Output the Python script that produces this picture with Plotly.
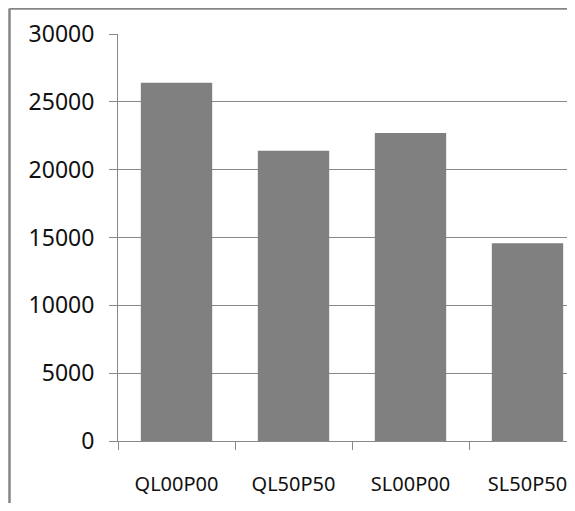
import plotly.graph_objects as go

categories = ["QL00P00", "QL50P50", "SL00P00", "SL50P50"]
values = [26400, 21400, 22700, 14570]
y_ticks = [0, 5000, 10000, 15000, 20000, 25000, 30000]

OFF = 8  # default page body margin
W, H = 575 - 2 * OFF, 511 - 2 * OFF
L, T = 118 - OFF, 34 - OFF
B = (511 - OFF) - 441
pw = W - L
ph = H - T - B
cat_w = 117.0
x_max = -0.5 + pw / cat_w

fig = go.Figure(go.Bar(x=categories, y=values, marker=dict(color="#808080", line=dict(width=0))))

grid = "#888888"
font = dict(family="Noto Sans, Open Sans, sans-serif", size=23, color="#111111")

fig.update_layout(
    width=W, height=H,
    margin=dict(l=L, r=0, t=T, b=B, pad=0, autoexpand=False),
    paper_bgcolor="white", plot_bgcolor="white",
    bargap=0.39, showlegend=False, font=font,
)
fig.update_xaxes(
    type="category", range=[-0.5, x_max], tickson="boundaries", automargin=False,
    ticks="outside", ticklen=8, tickcolor=grid, tickwidth=1,
    tickfont=dict(size=20),
    showline=True, linecolor=grid, linewidth=1,
    showgrid=False, zeroline=False, ticklabelstandoff=25,
)
fig.update_yaxes(
    range=[0, 30000], tickvals=y_ticks, ticktext=[str(v) for v in y_ticks],
    automargin=False,
    ticks="outside", ticklen=8, tickcolor=grid, tickwidth=1,
    showline=True, linecolor=grid, linewidth=1,
    showgrid=True, gridcolor=grid, gridwidth=1, zeroline=False,
    ticklabelstandoff=10,
)
# outer chart border (top and left edges visible), in screen pixels
def px_x(sx):
    return (sx - OFF - L) / pw

def px_y(sy):
    return (OFF + T + ph - sy) / ph

bx = px_x(9.5)
by = px_y(8.5)
fig.add_shape(type="line", xref="paper", yref="paper", x0=bx, x1=1.2, y0=by, y1=by,
              line=dict(color="#868686", width=2.5))
fig.add_shape(type="line", xref="paper", yref="paper", x0=bx, x1=bx, y0=by, y1=-0.3,
              line=dict(color="#868686", width=2.5))

fig.write_html("out.html")
